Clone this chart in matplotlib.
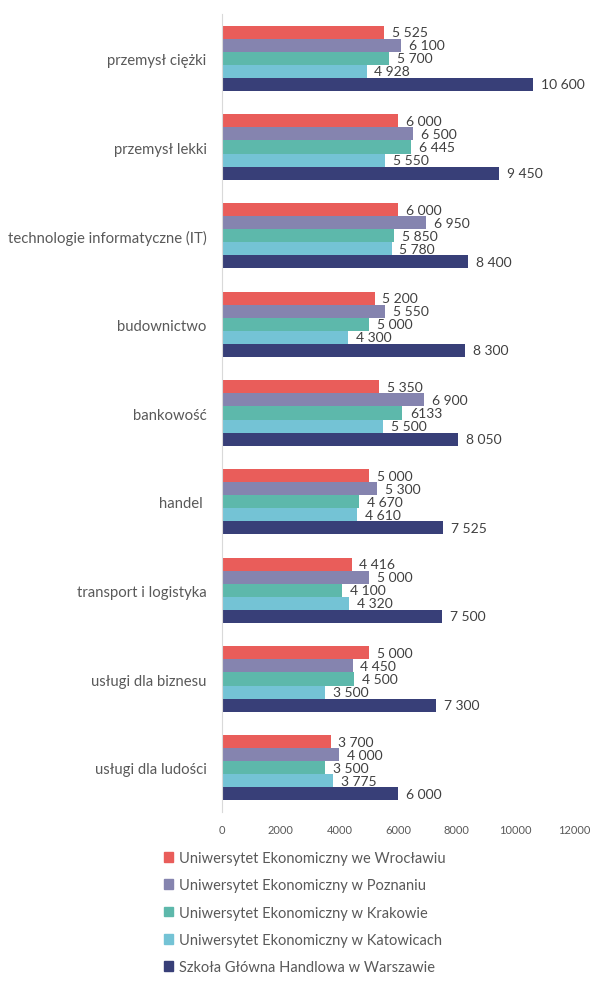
import numpy as np
import matplotlib
matplotlib.use("Agg")
import matplotlib.pyplot as plt
from matplotlib.patches import Patch

plt.rcParams['font.family'] = ['Lato', 'DejaVu Sans']

categories = [
    "przemysł ciężki",
    "przemysł lekki",
    "technologie informatyczne (IT)",
    "budownictwo",
    "bankowość",
    "handel ",
    "transport i logistyka",
    "usługi dla biznesu",
    "usługi dla ludości",
]

series_names = [
    "Uniwersytet Ekonomiczny we Wrocławiu",
    "Uniwersytet Ekonomiczny w Poznaniu",
    "Uniwersytet Ekonomiczny w Krakowie",
    "Uniwersytet Ekonomiczny w Katowicach",
    "Szkoła Główna Handlowa w Warszawie",
]

wroclaw = [5525, 6000, 6000, 5200, 5350, 5000, 4416, 5000, 3700]
poznan = [6100, 6500, 6950, 5550, 6900, 5300, 5000, 4450, 4000]
krakow = [5700, 6445, 5850, 5000, 6133, 4670, 4100, 4500, 3500]
katowice = [4928, 5550, 5780, 4300, 5500, 4610, 4320, 3500, 3775]
sgh = [10600, 9450, 8400, 8300, 8050, 7525, 7500, 7300, 6000]

# labels printed without thousands separator in the source
plain_labels = {(2, 4)}  # (series index, category index) -> "6133"

colors = ["#E95D5A", "#8584AF", "#5DB8AB", "#74C3D5", "#383F78"]


def fmt(v, key):
    if key in plain_labels:
        return str(v)
    return f"{v:,}".replace(",", " ")


def main():
    fig = plt.figure(figsize=(6.12, 9.87), dpi=100)
    ax = fig.add_axes([222 / 612, 1 - 813 / 987, 352 / 612, 798 / 987])

    data = [wroclaw, poznan, krakow, katowice, sgh]
    n = len(categories)
    y = np.arange(n)
    h = 0.147

    for j, vals in enumerate(data):
        ypos = y + (j - 2) * h
        ax.barh(ypos, vals, height=h, color=colors[j], label=series_names[j])
        for i, v in enumerate(vals):
            ax.text(v + 270, ypos[i], fmt(v, (j, i)), va="center", ha="left",
                    fontsize=10, color="#404040")

    ax.set_xlim(0, 12000)
    ax.set_ylim(n - 0.5, -0.5)
    ax.set_xticks(range(0, 12001, 2000))
    ax.set_yticks(y)
    ax.set_yticklabels(categories)
    ax.tick_params(axis="y", length=0, pad=11, labelsize=10.7, labelcolor="#595959")
    ax.tick_params(axis="x", length=0, pad=9, labelsize=8, labelcolor="#595959")

    for s in ["top", "right", "bottom"]:
        ax.spines[s].set_visible(False)
    ax.spines["left"].set_color("#D9D9D9")

    handles = [Patch(color=c) for c in colors]
    leg = fig.legend(handles, series_names, loc="upper left",
                     bbox_to_anchor=(164 / 612, 1 - 852 / 987),
                     frameon=False, fontsize=10.5, handlelength=0.65,
                     handleheight=0.65, handletextpad=0.4, labelspacing=0.91,
                     borderpad=0, borderaxespad=0)
    for t in leg.get_texts():
        t.set_color("#595959")

    fig.savefig("out.png", dpi=100)
    plt.close(fig)


if __name__ == "__main__":
    main()
